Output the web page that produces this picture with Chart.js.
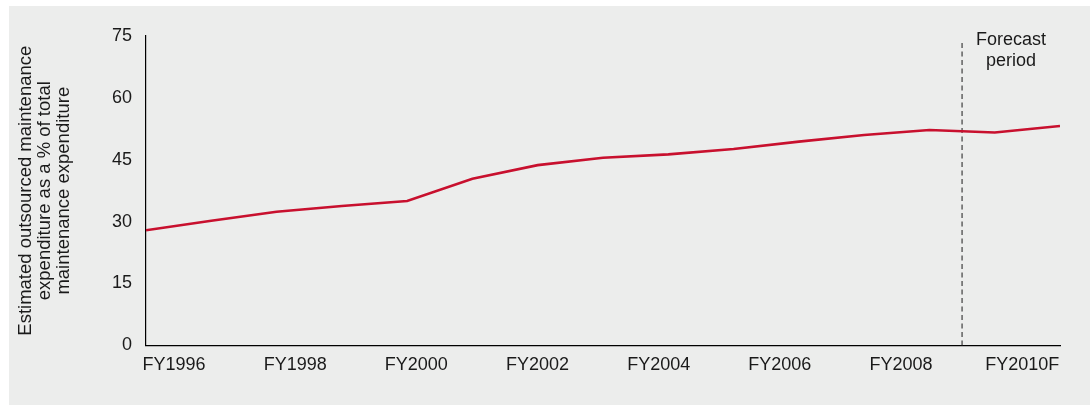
<!DOCTYPE html>
<html>
<head>
<meta charset="utf-8">
<script src="https://cdn.jsdelivr.net/npm/chart.js@4.4.1/dist/chart.umd.min.js"></script>
<style>
  html, body { margin: 0; padding: 0; background: #ffffff; }
  #wrap { position: absolute; left: 9px; top: 6px; width: 1081px; height: 399px; background: #ecedec; }
  canvas { display: block; }
</style>
</head>
<body>
<div id="wrap"><canvas id="c" width="1081" height="399"></canvas></div>
<script>
// Data
const years = ["FY1996","FY1997","FY1998","FY1999","FY2000","FY2001","FY2002","FY2003","FY2004","FY2005","FY2006","FY2007","FY2008","FY2009","FY2010F"];
const shareValues = [27.9, 30.2, 32.4, 33.8, 35.0, 40.4, 43.7, 45.5, 46.3, 47.6, 49.4, 51.0, 52.2, 51.6, 53.2];
const tickLabels = ["FY1996","FY1998","FY2000","FY2002","FY2004","FY2006","FY2008","FY2010F"];
const yTicks = [0, 15, 30, 45, 60, 75];
const forecastStart = 12.5; // between FY2008 and FY2009
const forecastTop = 73.8;
const axisTitle = ["Estimated outsourced maintenance", "expenditure as a % of total", "maintenance expenditure"];
const forecastText = ["Forecast", "period"];

const FONT = "'Liberation Sans', Arial, Helvetica, sans-serif";
const TXT = "#1a1a1a";

const forecastLabel = {
  id: 'forecastLabel',
  afterDatasetsDraw(chart) {
    const ctx = chart.ctx;
    const xs = chart.scales.x;
    const cx = xs.getPixelForValue((forecastStart + years.length - 1) / 2);
    const top = chart.chartArea.top;
    ctx.save();
    ctx.fillStyle = TXT;
    ctx.font = "18px " + FONT;
    ctx.textAlign = 'center';
    ctx.textBaseline = 'middle';
    forecastText.forEach((t, i) => ctx.fillText(t, cx, top + 4 + i * 21));
    ctx.restore();
  }
};

new Chart(document.getElementById('c'), {
  type: 'line',
  data: {
    datasets: [
      {
        data: years.map((y, i) => ({ x: i, y: shareValues[i] })),
        borderColor: '#c8102e',
        borderWidth: 2.6,
        pointRadius: 0,
        tension: 0,
        fill: false
      },
      {
        data: [{ x: forecastStart, y: 0 }, { x: forecastStart, y: forecastTop }],
        borderColor: '#4a4a4a',
        borderWidth: 1.3,
        borderDash: [5, 3.5],
        pointRadius: 0,
        fill: false
      }
    ]
  },
  options: {
    responsive: false,
    animation: false,
    events: [],
    layout: { padding: { left: 0, right: 30, top: 30, bottom: 20 } },
    plugins: { legend: { display: false }, tooltip: { enabled: false } },
    scales: {
      x: {
        type: 'linear',
        display: false,
        min: 0,
        max: years.length - 1
      },
      x2: {
        type: 'linear',
        position: 'bottom',
        min: -0.231,
        max: 7.312,
        grid: { display: false, drawTicks: false },
        border: { display: true, color: '#000000', width: 1.2 },
        afterBuildTicks(scale) { scale.ticks = tickLabels.map((_, i) => ({ value: i })); },
        ticks: {
          padding: 9,
          color: TXT,
          font: { family: FONT, size: 18 },
          maxRotation: 0,
          autoSkip: false,
          callback: (v) => tickLabels[v]
        }
      },
      y: {
        min: 0,
        max: 75,
        grid: { display: false, drawTicks: false },
        border: { display: true, color: '#000000', width: 1.2 },
        afterBuildTicks(scale) { scale.ticks = yTicks.map(v => ({ value: v })); },
        afterFit(scale) { scale.width = 137; },
        ticks: {
          padding: 14,
          color: TXT,
          font: { family: FONT, size: 18 }
        },
        title: {
          display: true,
          text: axisTitle,
          color: TXT,
          font: { family: FONT, size: 18.5, lineHeight: '19px' },
          padding: { top: 7.5, bottom: 0 }
        }
      }
    }
  },
  plugins: [forecastLabel]
});
</script>
</body>
</html>
